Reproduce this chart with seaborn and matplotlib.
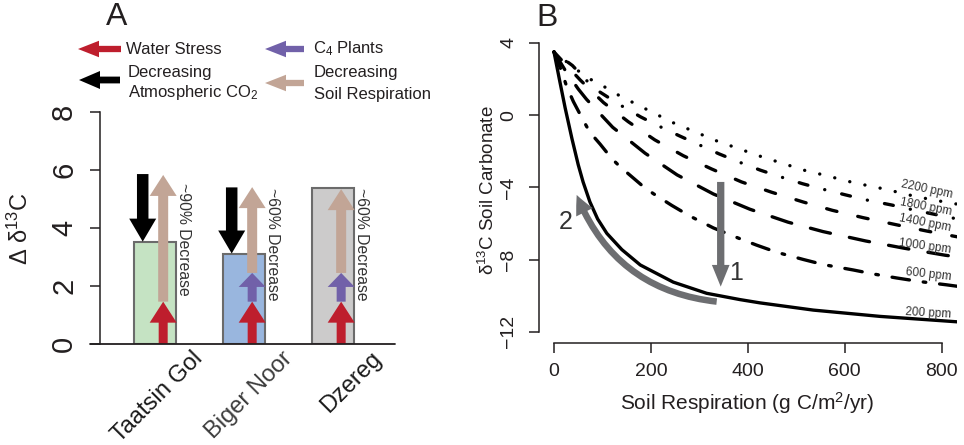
import matplotlib
matplotlib.use("Agg")
import matplotlib.pyplot as plt
import numpy as np
import pandas as pd
import seaborn as sns
from matplotlib.patches import FancyArrow, FancyArrowPatch

# ---------------- Panel A data ----------------
sites = ["Taatsin Gol", "Biger Noor", "Dzereg"]
delta_d13c = [3.53, 3.12, 5.38]
bar_colors = ["#c5e3c3", "#99b6de", "#cccbcb"]
site_label_colors = ["#1a1a1a", "#3d3d3d", "#1a1a1a"]
water_stress_top = [1.46, 1.46, 1.46]          # red arrows: 0 -> top
c4_top = [np.nan, 2.45, 2.45]                  # purple arrows: red top -> top
soil_resp_top = [5.83, 5.41, 5.34]             # tan arrows: base -> top
co2_from = [5.86, 5.40, np.nan]                # black arrows start
co2_to = [3.53, 3.12, np.nan]                  # black arrows tip
decrease_text = ["~90% Decrease", "~60% Decrease", "~60% Decrease"]
decrease_top = [5.55, 5.38, 5.38]

# ---------------- Panel B data ----------------
resp_200 = [0, 11, 23, 37, 50, 60, 74, 90, 109, 140, 178, 246, 315, 384, 425, 535, 673, 832]
d13c_200 = [3.5, 2.0, 0.4, -1.3, -2.75, -3.7, -4.8, -5.75, -6.55, -7.45, -8.3, -9.25, -9.87, -10.22, -10.4, -10.8, -11.15, -11.45]
resp_600 = [0, 16, 26, 40, 60, 74, 95, 119, 136, 160, 184, 205, 243, 281, 329, 384, 418, 460, 515, 556, 618, 659, 707, 755, 810, 832]
d13c_600 = [3.5, 2.4, 1.6, 0.75, -0.27, -0.95, -1.6, -2.4, -2.85, -3.4, -3.95, -4.35, -5.0, -5.6, -6.25, -6.85, -7.2, -7.6, -8.0, -8.28, -8.58, -8.8, -9.02, -9.22, -9.4, -9.48]
resp_1000 = [0, 25, 50, 67, 121, 188, 254, 329, 404, 483, 555, 643, 722, 807, 832]
d13c_1000 = [3.5, 2.4, 1.45, 0.88, -0.67, -2.11, -3.31, -4.37, -5.21, -5.93, -6.45, -6.97, -7.37, -7.76, -7.85]
resp_1400 = [0, 54, 102, 153, 208, 267, 325, 387, 449, 514, 574, 638, 706, 769, 832]
d13c_1400 = [3.5, 1.95, 0.7, -0.36, -1.37, -2.25, -2.98, -3.7, -4.27, -4.81, -5.27, -5.68, -6.07, -6.42, -6.74]
resp_1800 = [0, 38, 82, 136, 179, 219, 259, 341, 384, 426, 470, 513, 556, 602, 645, 697, 735, 779, 832]
d13c_1800 = [3.5, 2.75, 1.5, 0.57, -0.1, -0.64, -1.15, -2.15, -2.62, -3.05, -3.44, -3.8, -4.11, -4.42, -4.70, -4.98, -5.21, -5.46, -5.75]
resp_2200 = [0, 67, 98, 126, 157, 245, 336, 428, 521, 556, 618, 685, 748, 814, 832]
d13c_2200 = [3.5, 2.1, 1.67, 1.21, 0.78, -0.41, -1.43, -2.30, -3.09, -3.31, -3.74, -4.11, -4.52, -4.85, -4.93]
co2_levels = ["200 ppm", "600 ppm", "1000 ppm", "1400 ppm", "1800 ppm", "2200 ppm"]
xticks_B = [0, 200, 400, 600, 800]
yticks_B = [-12, -8, -4, 0, 4]
yticks_A = [0, 2, 4, 6, 8]

# ---------------- style ----------------
sns.set_theme(style="white")
plt.rcParams["font.family"] = ["Liberation Sans", "DejaVu Sans"]
plt.rcParams["mathtext.fontset"] = "custom"
plt.rcParams["mathtext.rm"] = "Liberation Sans"
plt.rcParams["mathtext.it"] = "Liberation Sans:italic"
plt.rcParams["mathtext.bf"] = "Liberation Sans:bold"
plt.rcParams["lines.scale_dashes"] = False
plt.rcParams["axes.unicode_minus"] = True

INK = "#231f20"
RED = "#be1e2d"
PURPLE = "#7161a9"
TAN = "#c2a596"
GRAY = "#6d6e71"
W, H = 964, 445
PX = 100 / 72.0  # pixels per point

fig = plt.figure(figsize=(W / 100, H / 100), dpi=100)
fig.patch.set_facecolor("white")


def fig_rect(left, top, right, bottom):
    return [left / W, (H - bottom) / H, (right - left) / W, (bottom - top) / H]


# ================= Panel A =================
axA = fig.add_axes(fig_rect(100, 112, 395, 344))
sns.barplot(x=sites, y=delta_d13c, hue=sites, palette=bar_colors, width=0.472,
            saturation=1, edgecolor="#6b6b6b", linewidth=1.5, legend=False, ax=axA)
axA.set_xlim(-0.618, 2.697)
axA.set_ylim(0, 8)
axA.set_xticks([])
axA.set_xlabel("")
axA.set_ylabel("")
axA.set_yticks(yticks_A)
axA.set_yticklabels([str(v) for v in yticks_A])
for s in ["top", "right", "bottom"]:
    axA.spines[s].set_visible(False)
axA.spines["left"].set_color(INK)
axA.spines["left"].set_linewidth(1.1)
axA.tick_params(axis="y", length=7.2, width=1.1, color=INK, pad=8.5,
                labelsize=21, labelcolor=INK, left=True)
for lbl in axA.get_yticklabels():
    lbl.set_rotation(90)
    lbl.set_va("center")
axA.plot([-0.73, 2.697], [0, 0], color=INK, lw=1.3, clip_on=False, zorder=5)

fig.canvas.draw()
p0 = axA.transData.transform((0, 0))
p1 = axA.transData.transform((1, 1))
sxA, syA = p1[0] - p0[0], p1[1] - p0[1]


def varrow(ax, sx, sy, x, y0, y1, shaft, head_w, head_l, color, z=4):
    ax.add_patch(FancyArrow(x, y0, 0, y1 - y0, width=shaft / sx, head_width=head_w / sx,
                            head_length=head_l / sy, length_includes_head=True,
                            color=color, lw=0, zorder=z, clip_on=False))


for i in range(len(sites)):
    xr = i + 0.092
    varrow(axA, sxA, syA, xr, 0, water_stress_top[i], 9, 27, 21, RED)
    base = water_stress_top[i]
    if not np.isnan(c4_top[i]):
        varrow(axA, sxA, syA, xr, water_stress_top[i], c4_top[i], 9, 27, 14, PURPLE)
        base = c4_top[i]
    varrow(axA, sxA, syA, xr, base, soil_resp_top[i], 10, 27, 21, TAN)
    if not np.isnan(co2_from[i]):
        varrow(axA, sxA, syA, i - 0.138, co2_from[i], co2_to[i], 11.5, 27, 23, "black", z=5)
    axA.text(i + 0.318, decrease_top[i], decrease_text[i], rotation=-90, ha="center",
             va="top", fontsize=11.3, color="#333333", zorder=6)
    axA.text(i + 0.415, -0.12, sites[i], rotation=45, ha="right", va="top",
             rotation_mode="anchor", fontsize=17, color=site_label_colors[i])

# ================= Panel B =================
axB = fig.add_axes(fig_rect(538.5, 31.4, 957.2, 343.3))
curve_x = [resp_200, resp_600, resp_1000, resp_1400, resp_1800, resp_2200]
curve_y = [d13c_200, d13c_600, d13c_1000, d13c_1400, d13c_1800, d13c_2200]
df = pd.concat([pd.DataFrame({"resp": rx, "d13c": ry, "co2": lev})
                for rx, ry, lev in zip(curve_x, curve_y, co2_levels)], ignore_index=True)


def dpx(seq):
    return tuple(v / PX for v in seq)


dash_map = {
    "200 ppm": "",
    "600 ppm": dpx((17.6, 13.9, 2.6, 13.9)),
    "1000 ppm": dpx((20.6, 19.4)),
    "1400 ppm": dpx((10.6, 21.4)),
    "1800 ppm": dpx((0.1, 17.4, 9.0, 17.4)),
    "2200 ppm": dpx((0.1, 15.4)),
}
sns.lineplot(data=df, x="resp", y="d13c", style="co2", style_order=co2_levels,
             dashes=dash_map, color="black", linewidth=2.4, estimator=None,
             errorbar=None, sort=False, legend=False, ax=axB,
             dash_capstyle="round", solid_capstyle="round")
axB.set_xlim(-32, 832)
axB.set_ylim(-12.64, 4.64)
axB.set_xlabel("")
axB.set_ylabel("")
axB.set_xticks(xticks_B)
axB.set_yticks(yticks_B)
axB.set_xticklabels([str(v) for v in xticks_B])
axB.set_yticklabels([str(v).replace("-", "\u2212") for v in yticks_B])
for s in ["top", "right"]:
    axB.spines[s].set_visible(False)
for s in ["left", "bottom"]:
    axB.spines[s].set_color(INK)
    axB.spines[s].set_linewidth(1.1)
axB.spines["bottom"].set_bounds(0, 800)
axB.spines["left"].set_bounds(-12, 4)
axB.tick_params(axis="both", length=7.2, width=1.1, color=INK, labelsize=14,
                labelcolor=INK, bottom=True, left=True)
axB.tick_params(axis="x", pad=7)
axB.tick_params(axis="y", pad=8)
for lbl in axB.get_yticklabels():
    lbl.set_rotation(90)
    lbl.set_va("center")

# ppm labels
ppm_pos = {
    "2200 ppm": (769, -4.1, -12),
    "1800 ppm": (767.6, -5.07, -11),
    "1400 ppm": (765.6, -5.99, -11),
    "1000 ppm": (765.6, -7.29, -7.5),
    "600 ppm": (772.4, -8.85, -6.3),
    "200 ppm": (772.4, -10.97, -3.3),
}
for lev in co2_levels:
    x, y, r = ppm_pos[lev]
    axB.text(x, y, lev, rotation=r, rotation_mode="anchor", ha="center", va="center",
             fontsize=8.5, color="#333333", zorder=6)

# grey process arrows
axB.add_patch(FancyArrowPatch((344, -3.7), (344, -9.5),
                              arrowstyle="simple,head_width=%.2f,head_length=%.2f,tail_width=%.2f"
                              % (17.7 / PX, 21.7 / PX, 7.3 / PX),
                              mutation_scale=1, color=GRAY, lw=0, shrinkA=0, shrinkB=0, zorder=5))
axB.add_patch(FancyArrowPatch((335.7, -10.33), (46.8, -4.42), connectionstyle="arc3,rad=-0.3",
                              arrowstyle="simple,head_width=%.2f,head_length=%.2f,tail_width=%.2f"
                              % (18.5 / PX, 19 / PX, 6.5 / PX),
                              mutation_scale=1, color=GRAY, lw=0, shrinkA=0, shrinkB=0, zorder=5))
axB.text(376.6, -8.76, "1", fontsize=18, ha="center", va="center", color="#333333")
axB.text(24.8, -5.9, "2", fontsize=18, ha="center", va="center", color="#333333")

# ================= Overlay (legend, labels) =================
ov = fig.add_axes([0, 0, 1, 1], facecolor="none")
ov.set_xlim(0, W)
ov.set_ylim(H, 0)
ov.axis("off")


def harrow(tail, tip, y, color, shaft=6.3, head_w=16.5, head_l=21):
    ov.add_patch(FancyArrow(tail, y, tip - tail, 0, width=shaft, head_width=head_w,
                            head_length=head_l, length_includes_head=True, color=color, lw=0))


harrow(121, 78, 49, RED)
harrow(120, 79, 80, "black", shaft=6.8, head_w=18)
harrow(304, 265, 49, PURPLE)
harrow(304, 265, 83, TAN)
legend_fs = 12
ov.text(126, 49, "Water Stress", fontsize=legend_fs, va="center", ha="left", color=INK)
ov.text(128, 72, "Decreasing", fontsize=legend_fs, va="center", ha="left", color=INK)
ov.text(128, 92, "Atmospheric CO$_2$", fontsize=legend_fs, va="center", ha="left", color=INK)
ov.text(313, 49, "C$_4$ Plants", fontsize=legend_fs, va="center", ha="left", color=INK)
ov.text(314, 73, "Decreasing", fontsize=legend_fs, va="center", ha="left", color=INK)
ov.text(314, 95, "Soil Respiration", fontsize=legend_fs, va="center", ha="left", color=INK)

ov.text(117, 17, "A", fontsize=23, ha="center", va="center", color=INK)
ov.text(547, 18, "B", fontsize=23, ha="center", va="center", color=INK)
ov.text(20, 229, "\u0394 \u03b4$^{13}$C", fontsize=17, rotation=90, ha="center", va="center", color=INK)
ov.text(488, 190, "\u03b4$^{13}$C Soil Carbonate", fontsize=13.5, rotation=90, ha="center",
        va="center", color=INK)
ov.text(747.5, 403, "Soil Respiration (g C/m$^2$/yr)", fontsize=15, ha="center", va="center",
        color=INK)

fig.savefig("out.png", dpi=100, facecolor="white")
